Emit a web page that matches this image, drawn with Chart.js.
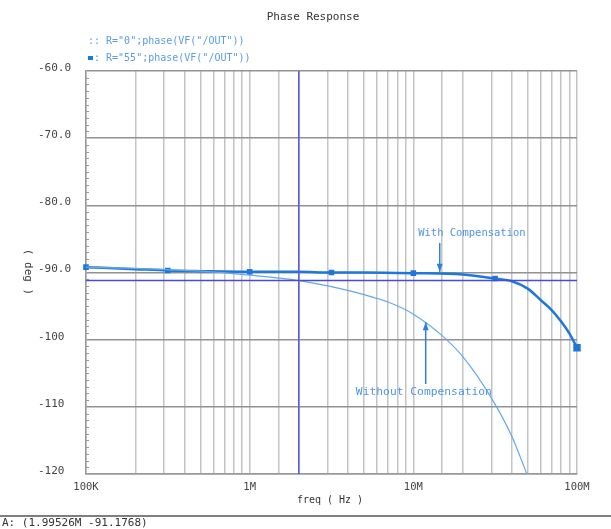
<!DOCTYPE html>
<html>
<head>
<meta charset="utf-8">
<script src="https://cdn.jsdelivr.net/npm/chart.js@4.4.1/dist/chart.umd.min.js"></script>
<style>
  html, body { margin: 0; padding: 0; background: #fff; }
  #wrap { width: 611px; height: 529px; }
</style>
</head>
<body>
<div id="wrap"><canvas id="phaseChart" width="611" height="529"></canvas></div>
<script>
// values (Hz, degrees)
const freqWith = [1e5, 2e5, 3.16e5, 5e5, 1e6, 2e6, 3.16e6, 5e6, 1e7, 2e7, 3.16e7, 4e7, 5e7, 6e7, 7e7, 8e7, 9e7, 1e8];
const phaseWith = [-89.2, -89.5, -89.7, -89.8, -89.9, -89.9, -90.0, -90.0, -90.1, -90.3, -90.9, -91.3, -92.4, -94.1, -95.6, -97.3, -99.1, -101.2];

const freqWithout = [1e5, 2e5, 5e5, 1e6, 2e6, 3e6, 5e6, 7e6, 1e7, 1.5e7, 2e7, 3e7, 4e7, 4.94e7];
const phaseWithout = [-89.2, -89.4, -89.8, -90.4, -91.2, -92.0, -93.3, -94.4, -96.2, -99.4, -102.5, -108.7, -114.4, -120];

const yTicks = [-120, -110, -100, -90, -80, -70, -60];
const yTickLabels = ['-120', '-110', '-100', '-90.0', '-80.0', '-70.0', '-60.0'];
const xDecades = [1e5, 1e6, 1e7, 1e8];
const xTickLabels = ['100K', '1M', '10M', '100M'];

const cursorFreq = 1.99526e6;
const cursorPhase = -91.1768;

const mono = '"DejaVu Sans Mono", monospace';

const toPoints = (xs, ys) => xs.map((f, i) => ({ x: f, y: ys[i] }));

// arrow helper
function arrow(ctx, x0, y0, x1, y1) {
  ctx.beginPath();
  ctx.moveTo(x0, y0);
  ctx.lineTo(x1, y1);
  ctx.stroke();
  const dir = Math.sign(y1 - y0);
  ctx.beginPath();
  ctx.moveTo(x1, y1);
  ctx.lineTo(x1 - 3, y1 - dir * 8);
  ctx.lineTo(x1 + 3, y1 - dir * 8);
  ctx.closePath();
  ctx.fill();
}

const overlay = {
  id: 'overlay',
  beforeDatasetsDraw(chart) {
    const { ctx, chartArea: a, scales: { y } } = chart;
    ctx.save();
    ctx.strokeStyle = '#9a9a9a';
    ctx.lineWidth = 1;
    for (let v = -119; v < -60; v++) {
      if (v % 10 === 0) continue;
      const py = Math.round(y.getPixelForValue(v)) + 0.5;
      ctx.beginPath();
      ctx.moveTo(a.left, py);
      ctx.lineTo(a.left + 3, py);
      ctx.stroke();
    }
    ctx.restore();
  },
  afterDraw(chart) {
    const { ctx, scales: { x, y } } = chart;
    ctx.save();
    ctx.textBaseline = 'middle';

    // title
    ctx.font = '11px ' + mono;
    ctx.fillStyle = '#333';
    ctx.textAlign = 'center';
    ctx.fillText('Phase Response', 313, 17);

    // legend
    ctx.font = '10px ' + mono;
    ctx.fillStyle = '#5b9be6';
    ctx.textAlign = 'left';
    ctx.fillText(':: R="0";phase(VF("/OUT"))', 88, 41);
    ctx.fillStyle = '#1e78dc';
    ctx.fillRect(88, 56, 5, 4);
    ctx.fillStyle = '#5b9be6';
    ctx.fillText(': R="55";phase(VF("/OUT"))', 94, 58);

    // axis titles
    ctx.fillStyle = '#333';
    ctx.font = '10px ' + mono;
    ctx.textAlign = 'center';
    ctx.fillText('freq ( Hz )', 330, 500);
    ctx.save();
    ctx.translate(28, 272);
    ctx.rotate(Math.PI / 2);
    ctx.font = '11px ' + mono;
    ctx.fillText('( deg )', 0, 0);
    ctx.restore();

    // annotations
    ctx.fillStyle = '#4f95e6';
    ctx.font = '10.5px ' + mono;
    ctx.fillText('With Compensation', x.getPixelForValue(2.28e7), y.getPixelForValue(-84.1));
    ctx.font = '11.3px ' + mono;
    ctx.fillText('Without Compensation', x.getPixelForValue(1.16e7), y.getPixelForValue(-107.8));

    ctx.strokeStyle = '#2f80e0';
    ctx.fillStyle = '#2f80e0';
    ctx.lineWidth = 1.5;
    const ax1 = x.getPixelForValue(1.45e7);
    arrow(ctx, ax1, y.getPixelForValue(-85.6), ax1, y.getPixelForValue(-89.9));
    const ax2 = x.getPixelForValue(1.19e7);
    arrow(ctx, ax2, y.getPixelForValue(-106.6), ax2, y.getPixelForValue(-97.4));

    // cursor readout
    ctx.strokeStyle = '#555';
    ctx.lineWidth = 1.5;
    ctx.beginPath();
    ctx.moveTo(0, 516);
    ctx.lineTo(611, 516);
    ctx.stroke();
    ctx.fillStyle = '#333';
    ctx.font = '11px ' + mono;
    ctx.textAlign = 'left';
    ctx.fillText('A: (1.99526M -91.1768)', 2, 523);
    ctx.restore();
  }
};

const ctx = document.getElementById('phaseChart').getContext('2d');
const phaseChart = new Chart(ctx, {
  type: 'line',
  data: {
    datasets: [
      {
        label: 'cursor h',
        data: [{ x: 1e5, y: cursorPhase }, { x: 1e8, y: cursorPhase }],
        borderColor: '#4a4ad8',
        borderWidth: 1.5,
        pointRadius: 0
      },
      {
        label: 'cursor v',
        data: [{ x: cursorFreq, y: -60 }, { x: cursorFreq, y: -120 }],
        borderColor: '#5a5ae0',
        borderWidth: 1,
        pointRadius: 0
      },
      {
        label: 'R="0"',
        data: toPoints(freqWithout, phaseWithout),
        borderColor: '#64a8ec',
        borderWidth: 1.2,
        pointRadius: 0,
        cubicInterpolationMode: 'monotone'
      },
      {
        label: 'R="55"',
        data: toPoints(freqWith, phaseWith),
        borderColor: '#1e78dc',
        backgroundColor: '#1e78dc',
        borderWidth: 2.5,
        clip: 6,
        pointStyle: 'rect',
        pointRadius: c => {
          const f = freqWith[c.dataIndex];
          const h = Math.log10(f) * 2;
          if (Math.abs(h - Math.round(h)) > 0.01) return 0;
          return c.dataIndex === freqWith.length - 1 ? 3.5 : 2.2;
        },
        cubicInterpolationMode: 'monotone'
      }
    ]
  },
  options: {
    responsive: false,
    animation: false,
    devicePixelRatio: 1,
    layout: { padding: { left: 38, right: 34, top: 71, bottom: 25 } },
    plugins: {
      legend: { display: false },
      tooltip: { enabled: false },
      title: { display: false }
    },
    scales: {
      x: {
        type: 'logarithmic',
        min: 1e5,
        max: 1e8,
        afterFit: s => { s.height = 30; },
        grid: { color: '#c4c4c4', lineWidth: 1.5, drawTicks: false },
        border: { color: '#999', width: 1.5 },
        ticks: {
          autoSkip: false,
          maxRotation: 0,
          padding: 7,
          color: '#444',
          font: { family: mono, size: 10.5 },
          callback: v => {
            const i = xDecades.findIndex(d => Math.abs(v - d) / d < 1e-6);
            return i >= 0 ? xTickLabels[i] : '';
          }
        }
      },
      y: {
        type: 'linear',
        min: -120,
        max: -60,
        afterFit: s => { s.width = 48; },
        grid: { color: '#929292', lineWidth: 1.5, drawTicks: false },
        border: { color: '#999', width: 1.5 },
        ticks: {
          stepSize: 10,
          crossAlign: 'far',
          labelOffset: -3,
          color: '#444',
          font: { family: mono, size: 11 },
          callback: v => {
            const i = yTicks.indexOf(v);
            return i >= 0 ? yTickLabels[i] : '';
          }
        }
      }
    }
  },
  plugins: [overlay]
});
</script>
</body>
</html>
